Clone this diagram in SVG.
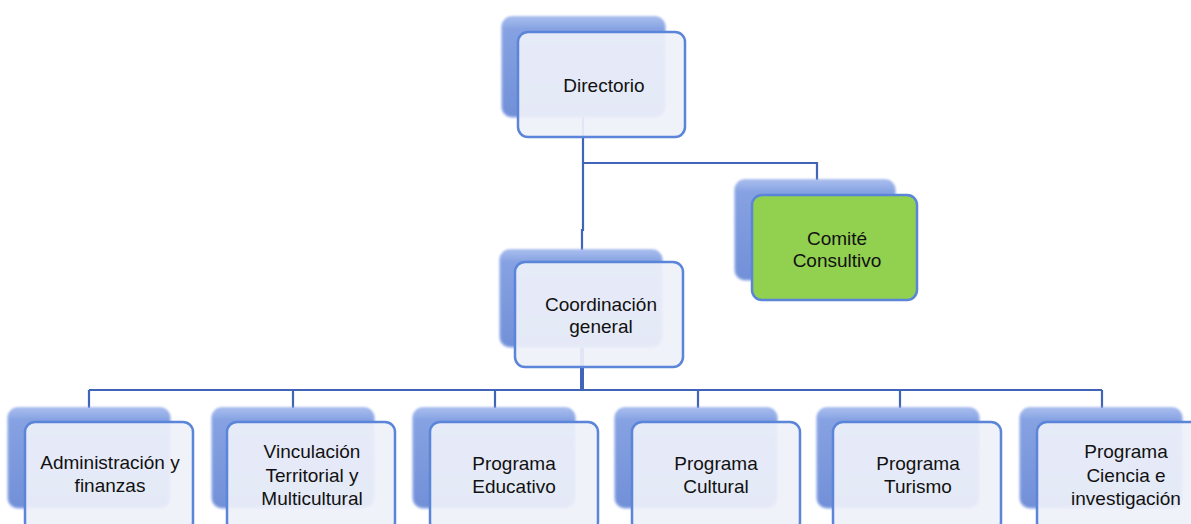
<svg xmlns="http://www.w3.org/2000/svg" width="1191" height="524" viewBox="0 0 1191 524">
<defs>
<linearGradient id="gBack" x1="0" y1="0" x2="0" y2="1">
<stop offset="0" stop-color="#A9BEEE"/>
<stop offset="0.12" stop-color="#86A2E2"/>
<stop offset="1" stop-color="#7290D8"/>
</linearGradient>
<filter id="soft" x="-5%" y="-5%" width="110%" height="110%">
<feGaussianBlur stdDeviation="1.2"/>
</filter>
</defs>
<style>
.back{fill:url(#gBack);stroke:#9DB3EA;stroke-width:1.5;filter:url(#soft)}
.front{fill:#EFF1FA;fill-opacity:0.92;stroke:#5A85D8;stroke-width:2.5}
.green{fill:#92D050;stroke:#5A85D8;stroke-width:2.5}
.conn{fill:none;stroke:#3F64B8;stroke-width:2.2}
.thick{stroke-width:4}
text{font-family:"Liberation Sans",Arial,sans-serif;font-size:19px;fill:#111;text-anchor:middle}
</style>
<rect width="1191" height="524" fill="#FFFFFF"/>
<g id="connectors">
<path class="conn" d="M583 117 V230 H582 V250"/>
<path class="conn" d="M583 163 H817 V180"/>
<path class="conn thick" d="M582 347 V390"/>
<path class="conn" d="M89 390 H1102"/>
<path class="conn" d="M89 390 V408 M293 390 V408 M495 390 V408 M698 390 V408 M900 390 V408 M1102 390 V408"/>
</g>
<g id="directorio">
<rect class="back" x="502" y="17" width="163" height="100" rx="10"/>
<rect class="front" x="518" y="32" width="167" height="105" rx="10"/>
<text x="604" y="92">Directorio</text>
</g>
<g id="comite">
<rect class="back" x="735" y="180" width="160" height="100" rx="10"/>
<rect class="green" x="752" y="195" width="165" height="105" rx="10"/>
<text x="837" y="245">Comité</text>
<text x="837" y="267">Consultivo</text>
</g>
<g id="coordinacion">
<rect class="back" x="500" y="250" width="162" height="97" rx="10"/>
<rect class="front" x="515" y="262" width="168" height="105" rx="10"/>
<text x="601" y="311">Coordinación</text>
<text x="601" y="333">general</text>
</g>
<g id="administracion">
<rect class="back" x="8" y="408" width="162" height="100" rx="10"/>
<rect class="front" x="25" y="422" width="168" height="110" rx="10"/>
<text x="110" y="469">Administración y</text>
<text x="110" y="492">finanzas</text>
</g>
<g id="vinculacion">
<rect class="back" x="212" y="408" width="162" height="100" rx="10"/>
<rect class="front" x="227" y="422" width="168" height="110" rx="10"/>
<text x="312" y="458">Vinculación</text>
<text x="312" y="482">Territorial y</text>
<text x="312" y="505">Multicultural</text>
</g>
<g id="educativo">
<rect class="back" x="413" y="408" width="162" height="100" rx="10"/>
<rect class="front" x="430" y="422" width="168" height="110" rx="10"/>
<text x="514" y="470">Programa</text>
<text x="514" y="493">Educativo</text>
</g>
<g id="cultural">
<rect class="back" x="615" y="408" width="162" height="100" rx="10"/>
<rect class="front" x="632" y="422" width="168" height="110" rx="10"/>
<text x="716" y="470">Programa</text>
<text x="716" y="493">Cultural</text>
</g>
<g id="turismo">
<rect class="back" x="817" y="408" width="162" height="100" rx="10"/>
<rect class="front" x="833" y="422" width="168" height="110" rx="10"/>
<text x="918" y="470">Programa</text>
<text x="918" y="493">Turismo</text>
</g>
<g id="ciencia">
<rect class="back" x="1020" y="408" width="162" height="100" rx="10"/>
<rect class="front" x="1037" y="422" width="168" height="110" rx="10"/>
<text x="1126" y="458">Programa</text>
<text x="1126" y="482">Ciencia e</text>
<text x="1126" y="505">investigación</text>
</g>
</svg>
